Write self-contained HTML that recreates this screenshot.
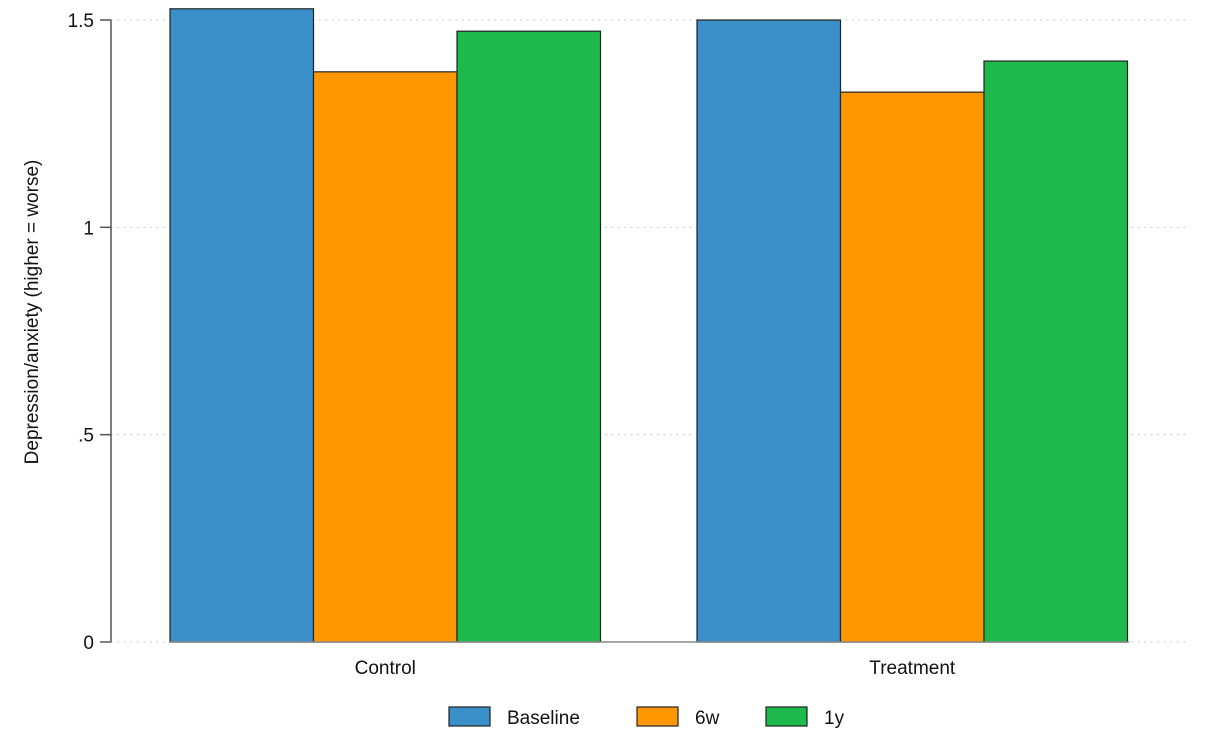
<!DOCTYPE html>
<html><head><meta charset="utf-8"><style>
body{margin:0;background:#fff;}
svg{display:block;font-family:"Liberation Sans",Arial,sans-serif;}
</style></head><body>
<svg id="chart" width="1219" height="745" viewBox="0 0 1219 745">
<rect width="1219" height="745" fill="#fff"/>
<g id="grid"></g>
<g id="bars"></g>
<line x1="111" y1="20" x2="111" y2="642" stroke="#555" stroke-width="1.5"/>
<g id="yticks"></g>
<g id="xlabels"></g>
<text x="38" y="312" font-size="19" text-anchor="middle" transform="rotate(-90 38 312)" fill="#111">Depression/anxiety (higher = worse)</text>
<g id="legend"></g>
</svg>
<script>
const categories = ["Control", "Treatment"];
const seriesNames = ["Baseline", "6w", "1y"];
const baselineVals = [1.527, 1.500];
const w6Vals = [1.375, 1.326];
const y1Vals = [1.473, 1.401];
const yTicks = [0, 0.5, 1, 1.5];
const yTickLabels = ["0", ".5", "1", "1.5"];
const colors = ["#3a8fc8", "#ff9800", "#1eba4c"];
const series = [baselineVals, w6Vals, y1Vals];
const NS = "http://www.w3.org/2000/svg";
const y0 = 642, yScale = 414.67;
function yPos(v){ return y0 - v * yScale; }
const groupStart = [170, 697], barW = 143.5;
function xPos(ci, si){ return groupStart[ci] + si * barW; }
function mk(tag, attrs, parent){ const e = document.createElementNS(NS, tag); for (const k in attrs) e.setAttribute(k, attrs[k]); parent.appendChild(e); return e; }
const grid = document.getElementById('grid'), yt = document.getElementById('yticks');
yTicks.forEach((t, i) => {
  const y = yPos(t);
  const g = mk('line', {x1:111, x2:1190, y1:y, y2:y, stroke:'#bbb', 'stroke-dasharray':'1.5 5'}, grid);
  
  
  const tk = mk('line', {x1:100, x2:111, y1:y, y2:y, stroke:'#555', 'stroke-width':1.5}, yt);
  
  
  const tx = mk('text', {x:94, y:y+7, 'font-size':19, 'text-anchor':'end', fill:'#111'}, yt);
  tx.textContent = yTickLabels[i];
  
  
});
const bars = document.getElementById('bars');
categories.forEach((c, ci) => {
  series.forEach((s, si) => {
    const x = xPos(ci, si), y = yPos(s[ci]);
    const r = mk('rect', {x:x, y:y, width:barW, height:y0 - y, fill:colors[si], stroke:'#222', 'stroke-width':1.2}, bars);
    
    
  });
  const lx = xPos(ci, 1) + barW / 2;
  const t = mk('text', {x:lx, y:674, 'font-size':19, 'text-anchor':'middle', fill:'#111'}, document.getElementById('xlabels'));
  t.textContent = c;
  
  
});
const base = mk('line', {x1:170, x2:1129, y1:y0, y2:y0, stroke:'#888', 'stroke-width':1.5}, bars);


const leg = document.getElementById('legend');
const legX = [449, 637, 766];
seriesNames.forEach((n, i) => {
  const r = mk('rect', {x:legX[i], y:707, width:41, height:19, fill:colors[i], stroke:'#222', 'stroke-width':1.2}, leg);
  
  
  const t = mk('text', {x:legX[i] + 58, y:724, 'font-size':19, fill:'#111'}, leg);
  t.textContent = n;
  
  
});
</script>
</body></html>
